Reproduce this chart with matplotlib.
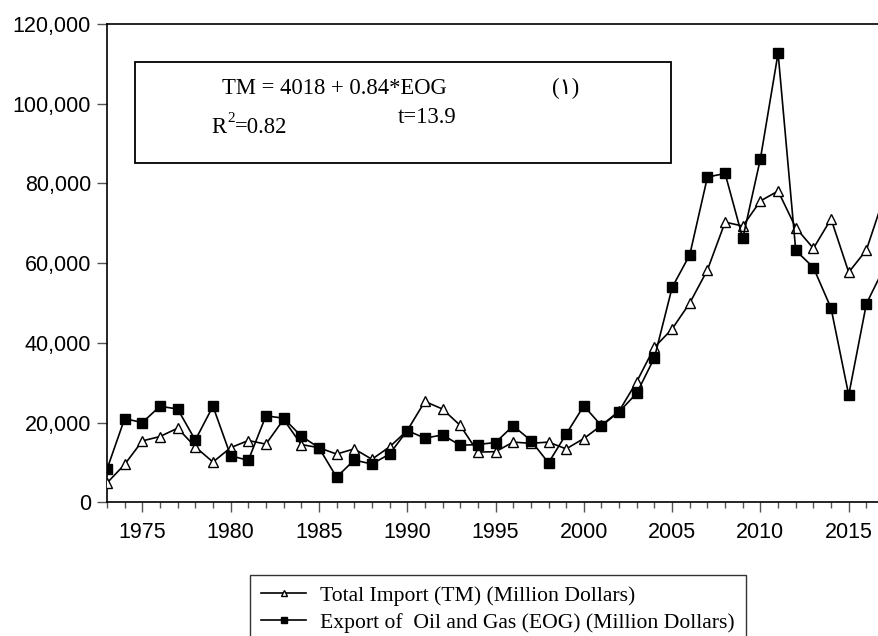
import matplotlib
matplotlib.use('Agg')

import matplotlib.pyplot as plt
from matplotlib.patches import Rectangle
from matplotlib.ticker import FuncFormatter, MultipleLocator

# Yearly values (million dollars)
years = list(range(1973, 2018))

total_import = [
    4850, 9500, 15400, 16500, 18600, 13900, 10100, 13700, 15500, 14600,
    20800, 14500, 13700, 12100, 13400, 10800, 13900, 18000, 25300, 23400,
    19300, 12600, 12700, 15100, 14800, 15100, 13400, 16000, 19300, 22900,
    30300, 38900, 43500, 50000, 58300, 70300, 69300, 75600, 78100, 68900,
    63700, 71100, 57700, 63300, 76600,
]

export_oil_gas = [
    8300, 21000, 20000, 24100, 23400, 15600, 24100, 11700, 10500, 21700,
    21100, 16600, 13700, 6300, 10600, 9600, 12100, 18000, 16100, 16900,
    14300, 14500, 15000, 19200, 15500, 9900, 17100, 24200, 19200, 22700,
    27400, 36300, 53900, 62100, 81600, 82500, 66200, 86200, 112700, 63200,
    58900, 48700, 26900, 49800, 58800,
]

series_labels = [
    "Total Import (TM) (Million Dollars)",
    "Export of  Oil and Gas (EOG) (Million Dollars)",
]

W, H = 879, 636
fig = plt.figure(figsize=(W / 100, H / 100), dpi=100)

# axes box in pixels: left 107, right 879, top 24, bottom 502
ax = fig.add_axes([107 / W, 1 - 502.3 / H, (W - 107) / W, (502.3 - 24) / H])

ax.plot(years, total_import, color='black', lw=1.2, marker='^', ms=7.5,
        mfc='white', mec='black', mew=1.0, label=series_labels[0], zorder=3)
ax.plot(years, export_oil_gas, color='black', lw=1.2, marker='s', ms=7.5,
        mfc='black', mec='black', label=series_labels[1], zorder=3)

ax.set_xlim(1973, 1973 + (W - 107) / 17.66)
ax.set_ylim(0, 120000)

ax.xaxis.set_major_locator(MultipleLocator(5))
ax.xaxis.set_minor_locator(MultipleLocator(1))
ax.yaxis.set_major_locator(MultipleLocator(20000))
ax.yaxis.set_major_formatter(FuncFormatter(lambda v, p: f"{int(v):,}"))

tick_font = 'Liberation Sans'
ax.tick_params(axis='both', which='major', direction='out', length=7.5,
               width=1.0, labelsize=15.5, color='#555555')
ax.tick_params(axis='x', which='minor', direction='out', length=4,
               width=1.0, color='#555555')
ax.tick_params(axis='x', pad=7)
ax.tick_params(axis='y', pad=4)
for lab in ax.get_xticklabels() + ax.get_yticklabels():
    lab.set_fontfamily(tick_font)

for side in ['left', 'bottom', 'top']:
    ax.spines[side].set_linewidth(1.2)
ax.spines['right'].set_visible(False)

# Regression box
box = Rectangle((135 / W, 1 - 163.3 / H), (671 - 135) / W, (163.3 - 62.3) / H,
                transform=fig.transFigure, fill=False, edgecolor='black',
                lw=1.3, zorder=5)
fig.patches.append(box)

serif = ['Liberation Serif', 'DejaVu Sans']
fig.text(222 / W, 1 - 94 / H, "TM = 4018 + 0.84*EOG", family=serif,
         fontsize=16.3, ha='left', va='baseline')
fig.text(552 / W, 1 - 94 / H, "(\u0661)", family=serif,
         fontsize=16.3, ha='left', va='baseline')
fig.text(211 / W, 1 - 133 / H, "R", family=serif,
         fontsize=16.3, ha='left', va='baseline')
fig.text(227 / W, 1 - 122 / H, "2", family=serif,
         fontsize=11, ha='left', va='baseline')
fig.text(235 / W, 1 - 133 / H, "=0.82", family=serif,
         fontsize=16.3, ha='left', va='baseline')
fig.text(398 / W, 1 - 123 / H, "t=13.9", family=serif,
         fontsize=16.3, ha='left', va='baseline')

# Legend below the chart
leg = fig.legend(loc='upper left', bbox_to_anchor=(250 / W, 1 - 575 / H),
                 bbox_transform=fig.transFigure, frameon=True, fancybox=False,
                 shadow=False, borderaxespad=0, borderpad=0.5,
                 handlelength=2.1, handletextpad=0.65, labelspacing=0.3,
                 markerscale=0.65, prop={'family': 'Liberation Serif', 'size': 15.6})
leg.get_frame().set_edgecolor('black')
leg.get_frame().set_linewidth(1.0)

fig.savefig('out.png', dpi=100)
